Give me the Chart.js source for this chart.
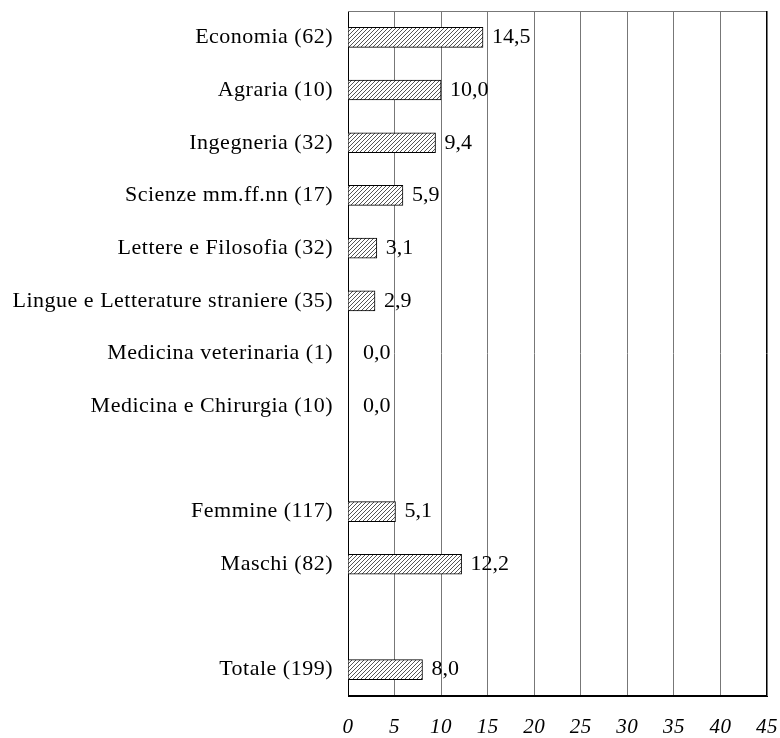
<!DOCTYPE html>
<html>
<head>
<meta charset="utf-8">
<script src="https://cdn.jsdelivr.net/npm/chart.js@4"></script>
<style>
  html, body { margin: 0; padding: 0; background: #fff; }
  #wrap { width: 780px; height: 738px; }
</style>
</head>
<body>
<div id="wrap"><canvas id="chart"></canvas></div>
<script>
// categorie (le stringhe vuote sono gli spazi tra i gruppi)
const categorie = [
  'Economia (62)',
  'Agraria (10)',
  'Ingegneria (32)',
  'Scienze mm.ff.nn (17)',
  'Lettere e Filosofia (32)',
  'Lingue e Letterature straniere (35)',
  'Medicina veterinaria (1)',
  'Medicina e Chirurgia (10)',
  '',
  'Femmine (117)',
  'Maschi (82)',
  '',
  'Totale (199)'
];
const valori = [14.5, 10.0, 9.4, 5.9, 3.1, 2.9, 0.0, 0.0, null, 5.1, 12.2, null, 8.0];
const tickX = [0, 5, 10, 15, 20, 25, 30, 35, 40, 45];

const FONT = '"Liberation Serif", "Times New Roman", serif';

// motivo a tratteggio diagonale
function tratteggio() {
  const c = document.createElement('canvas');
  c.width = 4; c.height = 4;
  const g = c.getContext('2d');
  g.fillStyle = '#fff';
  g.fillRect(0, 0, 4, 4);
  g.strokeStyle = '#555';
  g.lineWidth = 1;
  g.beginPath();
  g.moveTo(0, 4); g.lineTo(4, 0);
  g.moveTo(-1, 1); g.lineTo(1, -1);
  g.moveTo(3, 5); g.lineTo(5, 3);
  g.stroke();
  return g.createPattern(c, 'repeat');
}

// spaziatura delle lettere come nel grafico originale
const spaziatura = {
  id: 'spaziatura',
  beforeDraw(chart) { chart.ctx.letterSpacing = '0.5px'; }
};

// etichette dei valori a destra delle barre
const etichette = {
  id: 'etichette',
  afterDatasetsDraw(chart) {
    const ctx = chart.ctx;
    const meta = chart.getDatasetMeta(0);
    ctx.save();
    ctx.letterSpacing = '0px';
    ctx.font = '22px ' + FONT;
    ctx.fillStyle = '#000';
    ctx.textBaseline = 'middle';
    ctx.textAlign = 'left';
    meta.data.forEach((bar, i) => {
      const v = valori[i];
      if (v === null) return;
      const off = v === 0 ? 15 : 9;
      ctx.fillText(v.toFixed(1).replace('.', ','), bar.x + off, bar.y);
    });
    ctx.restore();
  }
};

// cornice dell'area del grafico
const cornice = {
  id: 'cornice',
  afterDraw(chart) {
    const a = chart.chartArea;
    const ctx = chart.ctx;
    ctx.save();
    ctx.strokeStyle = '#777';
    ctx.lineWidth = 1;
    ctx.beginPath();
    ctx.moveTo(a.left, a.top + 0.5);
    ctx.lineTo(a.right, a.top + 0.5);
    ctx.stroke();
    ctx.strokeStyle = '#000';
    ctx.beginPath();
    ctx.moveTo(a.right - 0.5, a.top);
    ctx.lineTo(a.right - 0.5, a.bottom);
    ctx.moveTo(a.left, a.bottom - 0.5);
    ctx.lineTo(a.right, a.bottom - 0.5);
    ctx.stroke();
    ctx.restore();
  }
};

const ctx = document.getElementById('chart').getContext('2d');
const chart = new Chart(ctx, {
  type: 'bar',
  data: {
    labels: categorie,
    datasets: [{
      data: valori,
      backgroundColor: tratteggio(),
      borderColor: '#000',
      borderWidth: 1,
      barThickness: 20
    }]
  },
  options: {
    indexAxis: 'y',
    responsive: true,
    maintainAspectRatio: false,
    animation: false,
    layout: { padding: { left: 0, right: 13, top: 11, bottom: 0 } },
    plugins: {
      legend: { display: false },
      tooltip: { enabled: false }
    },
    scales: {
      x: {
        min: 0,
        max: 45,
        afterBuildTicks: (s) => { s.ticks = tickX.map(v => ({ value: v })); },
        grid: { color: '#777', drawTicks: false },
        border: { display: true, color: '#000' },
        ticks: {
          padding: 19,
          color: '#000',
          font: { family: FONT, size: 21, style: 'italic' }
        },
        afterFit: (s) => { s.height = 42; s.paddingLeft = 0; s.paddingRight = 0; }
      },
      y: {
        grid: { display: false },
        border: { display: true, color: '#000' },
        ticks: {
          padding: 7,
          color: '#000',
          autoSkip: false,
          font: { family: FONT, size: 22 }
        },
        afterFit: (s) => { s.width = 348; s.paddingTop = 0; s.paddingBottom = 0; }
      }
    }
  },
  plugins: [spaziatura, etichette, cornice]
});
</script>
</body>
</html>
